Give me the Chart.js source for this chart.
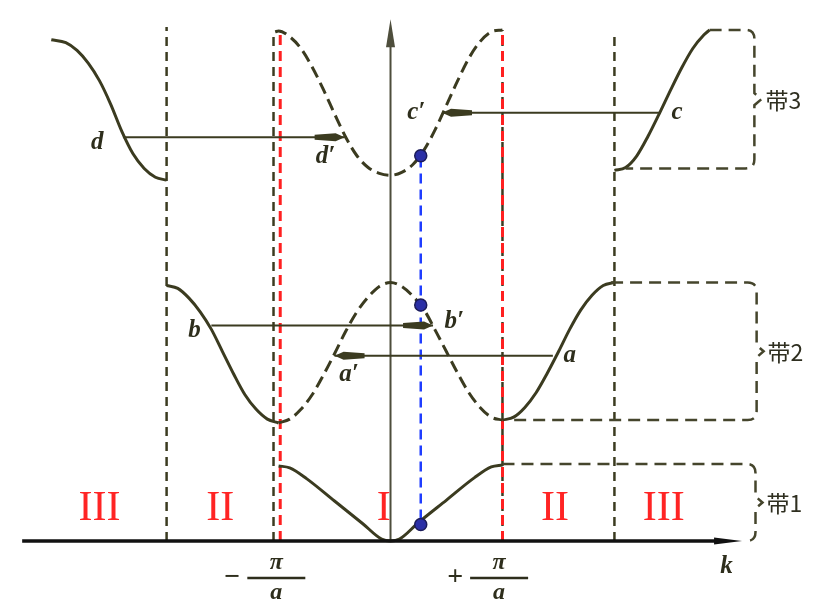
<!DOCTYPE html>
<html>
<head>
<meta charset="utf-8">
<script src="https://cdn.jsdelivr.net/npm/chart.js@4.4.1/dist/chart.umd.min.js"></script>
<style>
  body { margin: 0; background: #fff; }
  #wrap { width: 836px; height: 609px; }
</style>
</head>
<body>
<div id="wrap"><canvas id="BandChart"></canvas></div>
<script>
// k in units of pi/a, E in arbitrary energy units

// zone boundaries and zone names
const zoneBounds = [-2, -1, 1, 2];
const zoneNames = ['III', 'II', 'I', 'II', 'III'];
const zoneNameK = [-2.6, -1.52, -0.06, 1.47, 2.44];
const zoneNameE = 0.33;

// band 1, first zone
const band1K = [-1, -0.9, -0.75, -0.5, -0.25, -0.08, 0, 0.08, 0.25, 0.5, 0.75, 0.9, 1];
const band1E = [0.77, 0.75, 0.64, 0.41, 0.18, 0.02, 0, 0.02, 0.19, 0.42, 0.65, 0.76, 0.78];

// band 2, second zone (solid) and folded into the first zone (dashed)
const band2LeftK = [-2, -1.9, -1.8, -1.7, -1.6, -1.5, -1.4, -1.3, -1.2, -1.1, -1];
const band2LeftE = [2.62, 2.59, 2.49, 2.35, 2.17, 1.94, 1.71, 1.50, 1.35, 1.25, 1.21];
const band2RightK = [1, 1.1, 1.2, 1.3, 1.4, 1.5, 1.6, 1.7, 1.8, 1.9, 2];
const band2RightE = [1.24, 1.27, 1.37, 1.52, 1.72, 1.94, 2.17, 2.37, 2.52, 2.62, 2.65];
const band2FoldK = [-1, -0.9, -0.8, -0.7, -0.6, -0.5, -0.4, -0.3, -0.2, -0.1, 0,
                    0.1, 0.2, 0.3, 0.4, 0.5, 0.6, 0.7, 0.8, 0.9, 1];
const band2FoldE = [1.21, 1.25, 1.35, 1.50, 1.70, 1.92, 2.15, 2.35, 2.50, 2.61, 2.65,
                    2.61, 2.51, 2.37, 2.16, 1.94, 1.72, 1.52, 1.37, 1.27, 1.24];

// band 3, third zone (solid) and folded into the first zone (dashed)
const band3LeftK = [-3.03, -2.9, -2.8, -2.7, -2.6, -2.5, -2.4, -2.3, -2.2, -2.1, -2.0];
const band3LeftE = [5.14, 5.11, 5.03, 4.90, 4.72, 4.48, 4.20, 3.97, 3.82, 3.73, 3.70];
const band3RightK = [2.0, 2.1, 2.2, 2.3, 2.4, 2.5, 2.6, 2.7, 2.8, 2.85];
const band3RightE = [3.80, 3.83, 3.95, 4.15, 4.38, 4.62, 4.85, 5.05, 5.19, 5.24];
const band3FoldK = [-1.03, -1, -0.9, -0.8, -0.7, -0.6, -0.5, -0.4, -0.3, -0.2, -0.1, 0,
                    0.1, 0.2, 0.3, 0.4, 0.5, 0.6, 0.7, 0.8, 0.9, 1];
const band3FoldE = [5.22, 5.23, 5.17, 5.05, 4.86, 4.63, 4.38, 4.14, 3.95, 3.83, 3.77, 3.75,
                    3.78, 3.86, 4.01, 4.22, 4.47, 4.72, 4.95, 5.12, 5.22, 5.24];

// states at one k in the reduced zone
const markK = 0.27;
const markE = [0.17, 2.42, 3.95];

// translations by a reciprocal lattice vector
const arrowNames = ['d', 'c', 'b', 'a'];
const arrowFromK = [-2.39, 2.41, -1.6, 1.45];
const arrowToK = [-0.41, 0.46, 0.38, -0.5];
const arrowE = [4.14, 4.39, 2.21, 1.90];
const primeNames = ["d′", "c′", "b′", "a′"];
const nameAt = [[-2.62, 4.09], [2.56, 4.39], [-1.75, 2.16], [1.6, 1.90]];
const primeAt = [[-0.58, 3.94], [0.23, 4.39], [0.57, 2.25], [-0.37, 1.71]];

// band extents in the extended zone
const bandNames = ['带1', '带2', '带3'];
const boxTopK = [1.0, 1.97, 2.85];
const boxBotK = [null, 1.1, 2.1];
const boxTop = [0.79, 2.65, 5.24];
const boxBot = [0, 1.24, 3.82];
const boxRightK = [3.26, 3.27, 3.25];

// tick labels on k
const tickK = [-1.02, 0.97];
const tickSign = ['−', '+'];

const ink = '#3b3b20';
const pts = (ks, es) => ks.map((k, i) => ({ x: k, y: es[i] }));

function curve(ks, es, dashed) {
    return {
        data: pts(ks, es),
        borderColor: ink,
        borderWidth: 3,
        borderDash: dashed ? [12, 6] : [],
        pointRadius: 0,
        cubicInterpolationMode: 'monotone',
        order: 2
    };
}

function vline(k, e0, e1, color, dash, width, order) {
    return {
        data: [{ x: k, y: e0 }, { x: k, y: e1 }],
        borderColor: color,
        borderWidth: width,
        borderDash: dash,
        pointRadius: 0,
        order: order
    };
}

const decor = {
    id: 'decor',
    beforeDatasetsDraw(chart) {
        const { ctx, scales: { x, y } } = chart;
        ctx.save();
        // E axis
        const x0 = x.getPixelForValue(0);
        ctx.strokeStyle = '#4e4e3c';
        ctx.lineWidth = 2;
        ctx.beginPath();
        ctx.moveTo(x0, y.getPixelForValue(0));
        ctx.lineTo(x0, y.getPixelForValue(5.2));
        ctx.stroke();
        const yt = y.getPixelForValue(5.35);
        ctx.fillStyle = '#4e4e3c';
        ctx.beginPath();
        ctx.moveTo(x0, yt);
        ctx.lineTo(x0 - 4.5, yt + 28);
        ctx.lineTo(x0 + 4.5, yt + 28);
        ctx.closePath();
        ctx.fill();
        ctx.restore();
    },
    afterDatasetsDraw(chart) {
        const { ctx, scales: { x, y } } = chart;
        ctx.save();

        // k axis
        const ya = y.getPixelForValue(0);
        const xl = x.getPixelForValue(-3.29);
        const xr = x.getPixelForValue(3.14);
        ctx.strokeStyle = '#111';
        ctx.lineWidth = 3.5;
        ctx.beginPath();
        ctx.moveTo(xl, ya);
        ctx.lineTo(xr - 20, ya);
        ctx.stroke();
        ctx.fillStyle = '#111';
        ctx.beginPath();
        ctx.moveTo(xr, ya);
        ctx.lineTo(xr - 28, ya - 3.5);
        ctx.lineTo(xr - 28, ya + 3.5);
        ctx.closePath();
        ctx.fill();

        // arrows
        ctx.strokeStyle = ink;
        ctx.fillStyle = ink;
        arrowFromK.forEach((k0, i) => {
            const px0 = x.getPixelForValue(k0);
            const px1 = x.getPixelForValue(arrowToK[i]);
            const py = y.getPixelForValue(arrowE[i]);
            const s = Math.sign(px1 - px0);
            ctx.lineWidth = 2;
            ctx.beginPath();
            ctx.moveTo(px0, py);
            ctx.lineTo(px1, py);
            ctx.stroke();
            ctx.beginPath();
            ctx.moveTo(px1, py);
            ctx.lineTo(px1 - s * 9, py - 4);
            ctx.lineTo(px1 - s * 30, py - 2.5);
            ctx.lineTo(px1 - s * 30, py + 2.5);
            ctx.lineTo(px1 - s * 9, py + 4);
            ctx.closePath();
            ctx.fill();
        });

        // point labels
        ctx.font = 'italic bold 25px "Liberation Serif"';
        ctx.textAlign = 'center';
        ctx.textBaseline = 'middle';
        ctx.fillStyle = '#2e2e1c';
        arrowNames.forEach((n, i) => {
            ctx.fillText(n, x.getPixelForValue(nameAt[i][0]), y.getPixelForValue(nameAt[i][1]));
            ctx.fillText(primeNames[i], x.getPixelForValue(primeAt[i][0]), y.getPixelForValue(primeAt[i][1]));
        });

        // band boxes with braces
        ctx.strokeStyle = '#45452c';
        ctx.lineWidth = 2.5;
        ctx.setLineDash([12, 7]);
        bandNames.forEach((name, i) => {
            const r = 9;
            const xR = x.getPixelForValue(boxRightK[i]);
            const yT = y.getPixelForValue(boxTop[i]);
            const yB = y.getPixelForValue(boxBot[i]);
            const yM = (yT + yB) / 2;
            ctx.beginPath();
            ctx.moveTo(x.getPixelForValue(boxTopK[i]), yT);
            ctx.lineTo(xR - r, yT);
            ctx.quadraticCurveTo(xR, yT, xR, yT + r);
            ctx.lineTo(xR, yM - 6);
            ctx.lineTo(xR + 7, yM);
            ctx.lineTo(xR, yM + 6);
            ctx.lineTo(xR, yB - r);
            ctx.quadraticCurveTo(xR, yB, xR - r, yB);
            if (boxBotK[i] !== null) ctx.lineTo(x.getPixelForValue(boxBotK[i]), yB);
            ctx.stroke();
            ctx.save();
            ctx.setLineDash([]);
            ctx.font = '23px "Noto Sans CJK SC"';
            ctx.textAlign = 'left';
            ctx.fillStyle = '#2f2f20';
            ctx.fillText(name, xR + 11, yM + 1);
            ctx.restore();
        });
        ctx.setLineDash([]);

        // zone names
        ctx.font = '42px "Liberation Serif"';
        ctx.fillStyle = '#ff2424';
        ctx.textAlign = 'center';
        zoneNames.forEach((n, i) => {
            ctx.fillText(n, x.getPixelForValue(zoneNameK[i]), y.getPixelForValue(zoneNameE));
        });

        // tick labels -pi/a and +pi/a
        ctx.fillStyle = '#2e2e1c';
        ctx.strokeStyle = '#2e2e1c';
        tickK.forEach((k, i) => {
            const cx = x.getPixelForValue(k);
            const bar = ya + 37;
            ctx.lineWidth = 2.5;
            ctx.beginPath();
            ctx.moveTo(cx - 29, bar);
            ctx.lineTo(cx + 29, bar);
            ctx.stroke();
            ctx.font = 'italic bold 24px "Liberation Serif"';
            ctx.fillText('π', cx, bar - 15);
            ctx.fillText('a', cx, bar + 15);
            ctx.font = 'bold 28px "Liberation Serif"';
            ctx.fillText(tickSign[i], cx - 44, bar);
        });
        ctx.font = 'italic bold 25px "Liberation Serif"';
        ctx.fillText('k', x.getPixelForValue(3.0), ya + 26);

        ctx.restore();
    }
};

const datasets = [
    {
        data: markE.map(e => ({ x: markK, y: e })),
        showLine: false,
        pointRadius: 6,
        pointBackgroundColor: '#2b2fa6',
        pointBorderColor: '#1c1c5a',
        pointBorderWidth: 1.5,
        order: 0
    },
    vline(markK, markE[0] + 0.05, markE[2], '#1f3dff', [10, 6], 2.5, 1),
    curve(band1K, band1E, false),
    curve(band2LeftK, band2LeftE, false),
    curve(band2RightK, band2RightE, false),
    curve(band2FoldK, band2FoldE, true),
    curve(band3LeftK, band3LeftE, false),
    curve(band3RightK, band3RightE, false),
    curve(band3FoldK, band3FoldE, true),
    vline(zoneBounds[0], 0, 5.27, ink, [9, 6], 2.5, 3),
    vline(-1.045, 0, 5.22, ink, [9, 6], 2.5, 4),
    vline(-0.985, 0, 5.2, '#ff2020', [10, 6], 3, 3),
    vline(zoneBounds[2], 0, 5.24, ink, [9, 6], 2.5, 4),
    vline(zoneBounds[2], 0, 5.22, '#ff2020', [10, 6], 3, 3),
    vline(zoneBounds[3], 0, 5.2, ink, [9, 6], 2.5, 3)
];

new Chart(document.getElementById('BandChart').getContext('2d'), {
    type: 'line',
    data: { datasets: datasets },
    options: {
        responsive: true,
        maintainAspectRatio: false,
        animation: false,
        layout: { padding: 0 },
        plugins: { legend: { display: false }, tooltip: { enabled: false } },
        scales: {
            x: { type: 'linear', min: -3.421, max: 3.912, display: false },
            y: { type: 'linear', min: -0.62, max: 5.47, display: false }
        }
    },
    plugins: [decor]
});
</script>
</body>
</html>
